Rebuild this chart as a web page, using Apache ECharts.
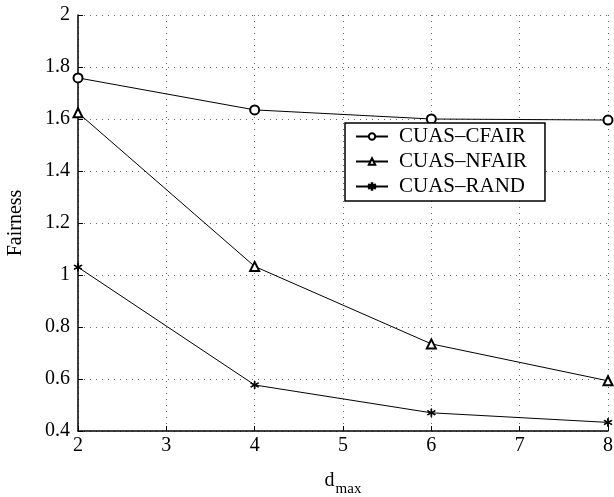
<!DOCTYPE html>
<html>
<head>
<meta charset="utf-8">
<script src="https://cdn.jsdelivr.net/npm/echarts@6/dist/echarts.min.js"></script>
<style>html,body{margin:0;padding:0;background:#fff;}#c{width:614px;height:497px;}</style>
</head>
<body>
<div id="c"></div>
<script>
const xValues = [2, 4, 6, 8];
const cfair = [1.758, 1.635, 1.600, 1.596];
const nfair = [1.624, 1.033, 0.735, 0.593];
const rand = [1.030, 0.577, 0.470, 0.433];
const seriesNames = ['CUAS\u2013CFAIR', 'CUAS\u2013NFAIR', 'CUAS\u2013RAND'];

const FONT = '"Liberation Serif", "DejaVu Serif", serif';
const star = 'path://M4.6,0 h0.8 v4.2 l3.6,-2.1 l0.4,0.7 l-3.6,2.1 l3.6,2.1 l-0.4,0.7 l-3.6,-2.1 v4.2 h-0.8 v-4.2 l-3.6,2.1 l-0.4,-0.7 l3.6,-2.1 l-3.6,-2.1 l0.4,-0.7 l3.6,2.1 z';

function pairs(ys){ return xValues.map((x,i)=>[x, ys[i]]); }

const chart = echarts.init(document.getElementById('c'), null, {renderer:'canvas'});
const common = {
  type:'line', color:'#000', lineStyle:{color:'#000', width:1},
  itemStyle:{color:'#000', borderColor:'#000', borderWidth:1},
  animation:false, z:3
};
chart.setOption({
  backgroundColor:'#fff',
  animation:false,
  grid:{left:78, right:6, top:15, bottom:66, containLabel:false, outerBoundsMode:'none'},
  legend:{
    left:345, top:123, width:198, orient:'vertical',
    backgroundColor:'#fff', borderColor:'#000', borderWidth:1.5,
    padding:[2,18,3,10], itemGap:2, itemWidth:32, itemHeight:8,
    textStyle:{fontFamily:FONT, fontSize:21, color:'#000', padding:[0,0,0,6], lineHeight:23},
    data:seriesNames
  },
  xAxis:{
    type:'value', min:2, max:8, interval:1,
    name:'{a|d}{b|max}', nameLocation:'middle', nameGap:33,
    nameTextStyle:{rich:{
      a:{fontFamily:FONT, fontSize:20, color:'#000'},
      b:{fontFamily:FONT, fontSize:15, color:'#000', padding:[18,0,0,1]}
    }},
    axisLine:{show:true, onZero:false, lineStyle:{color:'#000', width:1.5}},
    axisTick:{show:true, inside:true, length:5, lineStyle:{color:'#000'}},
    axisLabel:{fontFamily:FONT, fontSize:20, color:'#000', margin:5},
    splitLine:{show:true, lineStyle:{color:'#666', type:[1,5], width:1}}
  },
  yAxis:{
    type:'value', min:0.4, max:2, interval:0.2,
    name:'Fairness', nameLocation:'middle', nameGap:52,
    nameTextStyle:{fontFamily:FONT, fontSize:20, color:'#000'},
    axisLine:{show:true, onZero:false, lineStyle:{color:'#000', width:1.5}},
    axisTick:{show:true, inside:true, length:5, lineStyle:{color:'#000'}},
    axisLabel:{fontFamily:FONT, fontSize:20, color:'#000', margin:8,
      formatter:v=>String(parseFloat(v.toFixed(2)))},
    splitLine:{show:true, lineStyle:{color:'#666', type:[1,5], width:1}}
  },
  series:[
    Object.assign({}, common, {name:seriesNames[0], data:pairs(cfair), symbol:'emptyCircle', symbolSize:9}),
    Object.assign({}, common, {name:seriesNames[1], data:pairs(nfair), symbol:'emptyTriangle', symbolSize:9}),
    Object.assign({}, common, {name:seriesNames[2], data:pairs(rand), symbol:star, symbolSize:8})
  ]
});
</script>
</body>
</html>
